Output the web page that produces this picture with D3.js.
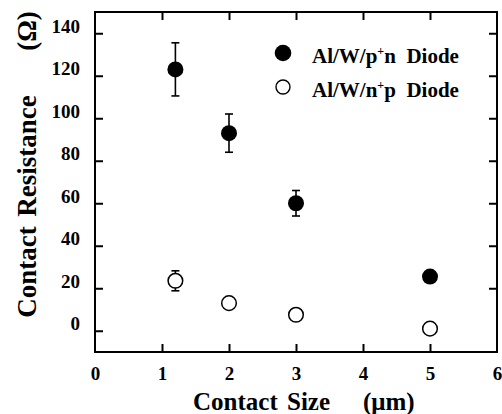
<!DOCTYPE html>
<html>
<head>
<meta charset="utf-8">
<script src="https://cdn.jsdelivr.net/npm/d3@7"></script>
<style>
  body { margin: 0; background: #fff; }
  text { font-family: "Liberation Serif", "Times New Roman", serif; font-weight: bold; fill: #000; }
</style>
</head>
<body>
<div id="chart"></div>
<script>
// contact size (um) vs contact resistance (ohm)
const pnSize = [1.2, 2, 3, 5];
const pnRes = [123, 93, 60, 25.5];
const pnErr = [12.5, 9, 6, 0];

const npSize = [1.2, 2, 3, 5];
const npRes = [23.5, 13, 7.5, 1];
const npErr = [4.7, 0, 0, 0];

const xTicks = [0, 1, 2, 3, 4, 5, 6];
const yTicks = [0, 20, 40, 60, 80, 100, 120, 140];

const W = 502, H = 414;
const margin = { left: 95, right: 5, top: 12, bottom: 62 };

const svg = d3.select('#chart').append('svg')
    .attr('width', W)
    .attr('height', H);

const x = d3.scaleLinear().domain([0, 6]).range([margin.left, W - margin.right]);
const y = d3.scaleLinear().domain([-10, 150]).range([H - margin.bottom, margin.top]);

const TICK = 8;
const fmt = d3.format('d');

// axes, ticks point into the plot
svg.append('g')
    .attr('class', 'xaxis')
    .attr('transform', `translate(0,${y(-10)})`)
    .call(d3.axisBottom(x).tickValues(xTicks).tickFormat(fmt).tickSize(-TICK).tickPadding(15))
    .call(g => g.select('.domain').remove());
svg.append('g')
    .attr('transform', `translate(0,${y(150)})`)
    .call(d3.axisTop(x).tickValues(xTicks).tickSize(-TICK).tickFormat(''))
    .call(g => g.select('.domain').remove());
svg.append('g')
    .attr('class', 'yaxis')
    .attr('transform', `translate(${x(0)},0)`)
    .call(d3.axisLeft(y).tickValues(yTicks).tickFormat(fmt).tickSize(-TICK).tickPadding(15))
    .call(g => g.select('.domain').remove());
svg.append('g')
    .attr('transform', `translate(${x(6)},0)`)
    .call(d3.axisRight(y).tickValues(yTicks).tickSize(-TICK).tickFormat(''))
    .call(g => g.select('.domain').remove());

svg.selectAll('.tick line').attr('stroke', '#000').attr('stroke-width', 2);
svg.selectAll('.tick text')
    .attr('font-size', 19)
    .style('font-family', '"Liberation Serif", serif')
    .style('font-weight', 'bold');
// labels on the y axis sit a little above their ticks in the original
svg.selectAll('.yaxis .tick text').attr('dy', '0.32em').attr('y', -7);
svg.selectAll('.xaxis .tick').filter(d => d === 0 || d === 6).select('line').remove();
svg.selectAll('g:not(.xaxis):not(.yaxis) > .tick').filter(d => d === 0 || d === 6).select('line').remove();

// frame
svg.append('rect')
    .attr('x', x(0))
    .attr('y', y(150))
    .attr('width', x(6) - x(0))
    .attr('height', y(-10) - y(150))
    .attr('fill', 'none')
    .attr('stroke', '#000')
    .attr('stroke-width', 2);

// error bars
const drawErr = (xs, ys, es) => {
    const d = xs.map((v, i) => ({ x: v, y: ys[i], e: es[i] })).filter(p => p.e > 0);
    const g = svg.append('g').attr('stroke', '#000').attr('stroke-width', 1.6);
    d.forEach(p => {
        g.append('line').attr('x1', x(p.x)).attr('x2', x(p.x))
            .attr('y1', y(p.y - p.e)).attr('y2', y(p.y + p.e));
        [p.y - p.e, p.y + p.e].forEach(v => {
            g.append('line').attr('x1', x(p.x) - 4).attr('x2', x(p.x) + 4)
                .attr('y1', y(v)).attr('y2', y(v));
        });
    });
};
drawErr(pnSize, pnRes, pnErr);
drawErr(npSize, npRes, npErr);

svg.append('g').selectAll('circle')
    .data(pnSize.map((v, i) => [v, pnRes[i]]))
    .join('circle')
    .attr('cx', d => x(d[0]))
    .attr('cy', d => y(d[1]))
    .attr('r', 8)
    .attr('fill', '#000');

svg.append('g').selectAll('circle')
    .data(npSize.map((v, i) => [v, npRes[i]]))
    .join('circle')
    .attr('cx', d => x(d[0]))
    .attr('cy', d => y(d[1]))
    .attr('r', 7.3)
    .attr('fill', '#fff')
    .attr('stroke', '#000')
    .attr('stroke-width', 1.5);

// legend
const legend = svg.append('g').attr('transform', 'translate(283,53)');
legend.append('circle').attr('r', 8.3).attr('fill', '#000');
legend.append('circle').attr('cy', 34).attr('r', 7)
    .attr('fill', '#fff').attr('stroke', '#000').attr('stroke-width', 1.4);
const legendRow = (ty, a, b) => {
    const t = legend.append('text').attr('x', 29).attr('y', ty).attr('font-size', 21);
    t.append('tspan').text(a);
    t.append('tspan').attr('font-size', 12).attr('dy', -8).text('+');
    t.append('tspan').attr('dy', 8).text(b);
};
legendRow(10, 'Al/W/p', 'n\u00a0\u00a0Diode');
legendRow(44, 'Al/W/n', 'p\u00a0\u00a0Diode');

// axis titles, words placed as in the original
const xTitle = svg.append('text').attr('y', 410).attr('font-size', 25);
xTitle.append('tspan').attr('x', 193).text('Contact');
xTitle.append('tspan').attr('x', 287).text('Size');
xTitle.append('tspan').attr('x', 363).text('(\u03bcm)');

const yTitle = [['Contact', 272], ['Resistance', 156], ['(\u03a9)', 31]];
yTitle.forEach(([w, cy]) => {
    svg.append('text')
        .attr('transform', `translate(36,${cy}) rotate(-90)`)
        .attr('text-anchor', 'middle')
        .attr('font-size', 27)
        .text(w);
});
</script>
</body>
</html>
